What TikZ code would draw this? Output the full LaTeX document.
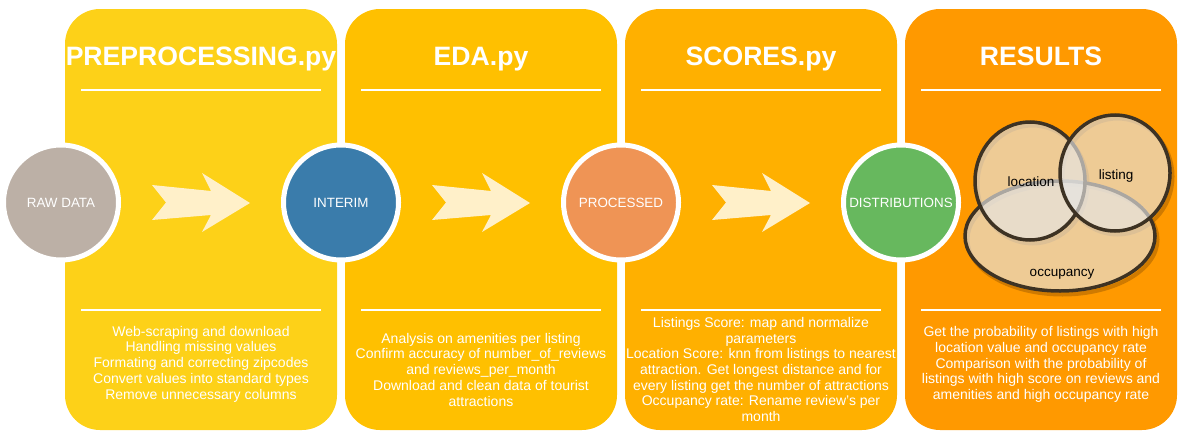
\documentclass[tikz,border=0pt]{standalone}
\usepackage{fontspec}
\setmainfont{Liberation Sans}
\usetikzlibrary{calc}

\definecolor{panelA}{HTML}{FDD118}
\definecolor{panelB}{HTML}{FFC000}
\definecolor{panelC}{HTML}{FFB000}
\definecolor{panelD}{HTML}{FF9900}
\definecolor{arrowcream}{HTML}{FFF0C9}
\definecolor{rawgray}{HTML}{BCB0A6}
\definecolor{interimblue}{HTML}{3A7CAB}
\definecolor{processedorange}{HTML}{EF9455}
\definecolor{distgreen}{HTML}{67B85E}
\definecolor{vennline}{HTML}{3D3223}
\definecolor{vennfill}{HTML}{E6E6E6}
\definecolor{vennshadow}{HTML}{A86200}

\tikzset{
  panel/.style={rectangle, rounded corners=35pt, minimum width=272pt,
    minimum height=421pt, inner sep=0pt, draw=none},
  paneltitle/.style={text=white, font=\fontsize{26.6}{30}\selectfont\bfseries,
    inner sep=0pt, anchor=base},
  separator/.style={draw=white, line width=2pt},
  paneltext/.style={text=white, font=\fontsize{14}{15.7}\selectfont,
    align=center, inner sep=0pt, anchor=base},
  stage/.style={circle, minimum size=115pt, inner sep=0pt, draw=white,
    line width=5pt, text=white, font=\fontsize{13.4}{15}\selectfont},
  flowarrow/.style={fill=arrowcream, draw=none},
  vennshape/.style={fill=vennfill, fill opacity=0.65, draw=vennline,
    draw opacity=1, line width=3.5pt},
  vennshade/.style={draw=vennshadow, draw opacity=0.55, line width=4pt},
  vennlabel/.style={text=black, font=\fontsize{13.5}{15}\selectfont, inner sep=0pt}
}

\begin{document}
\begin{tikzpicture}[x=1pt, y=-1pt]
\useasboundingbox (0,0) rectangle (1185,439);

% the four script panels
\node[panel, fill=panelA] (p1) at (201,219.5) {};
\node[panel, fill=panelB] (p2) at (481,219.5) {};
\node[panel, fill=panelC] (p3) at (761,219.5) {};
\node[panel, fill=panelD] (p4) at (1041,219.5) {};

% titles
\node[paneltitle] (t1) at (201,65) {PREPROCESSING.py};
\node[paneltitle] (t2) at (481,65) {EDA.py};
\node[paneltitle] (t3) at (761,65) {SCORES.py};
\node[paneltitle] (t4) at (1041,65) {RESULTS};

% white rules under the titles and above the descriptions
\foreach \dx in {0,280,560,840} {
  \draw[separator] (81+\dx,89.5) -- (321+\dx,89.5);
  \draw[separator] (81+\dx,310) -- (321+\dx,310);
}

% flow arrows between the stages
\foreach \dx in {0,280,560} {
  \fill[flowarrow, xshift=\dx pt]
    (152,185) -- (211,191) -- (202,173) -- (250,203) -- (202,232)
    -- (211,215) -- (152,220) -- (166,202.5) -- cycle;
}

% data stages
\node[stage, fill=rawgray] (raw) at (61,202.5) {RAW DATA};
\node[stage, fill=interimblue] (interim) at (341,202.5) {INTERIM};
\node[stage, fill=processedorange] (processed) at (621,202.5) {PROCESSED};
\node[stage, fill=distgreen] (dist) at (901,202.5) {DISTRIBUTIONS};

% descriptions (anchored on the baseline of the last line)
\node[paneltext] (d1) at (201,399) {Web-scraping and download\\
  Handling missing values\\
  Formating and correcting zipcodes\\
  Convert values into standard types\\
  Remove unnecessary columns};
\node[paneltext] (d2) at (481,406) {Analysis on amenities per listing\\
  Confirm accuracy of number\_of\_reviews\\
  and reviews\_per\_month\\
  Download and clean data of tourist\\
  attractions};
\node[paneltext] (d3) at (761,421.5) {Listings Score: map and normalize\\
  parameters\\
  Location Score: knn from listings to nearest\\
  attraction. Get longest distance and for\\
  every listing get the number of attractions\\
  Occupancy rate: Rename review's per\\
  month};
\node[paneltext] (d4) at (1041,399.5) {Get the probability of listings with high\\
  location value and occupancy rate\\
  Comparison with the probability of\\
  listings with high score on reviews and\\
  amenities and high occupancy rate};

% Venn diagram: shadows first, then the three sets
\draw[vennshade] (1062.5,239.5) ellipse [x radius=95, y radius=55];
\draw[vennshade] (1032.5,184.5) ellipse [x radius=55, y radius=59];
\draw[vennshade] (1117.5,176.5) ellipse [x radius=55, y radius=58];
\draw[vennshape] (1060,236) ellipse [x radius=95, y radius=55];
\draw[vennshape] (1030,181) ellipse [x radius=55, y radius=59];
\draw[vennshape] (1115,173) ellipse [x radius=55, y radius=58];
\node[vennlabel] (loc) at (1031,182) {location};
\node[vennlabel] (lst) at (1116,176) {listing};
\node[vennlabel] (occ) at (1062,274) {occupancy};
\end{tikzpicture}
\end{document}
